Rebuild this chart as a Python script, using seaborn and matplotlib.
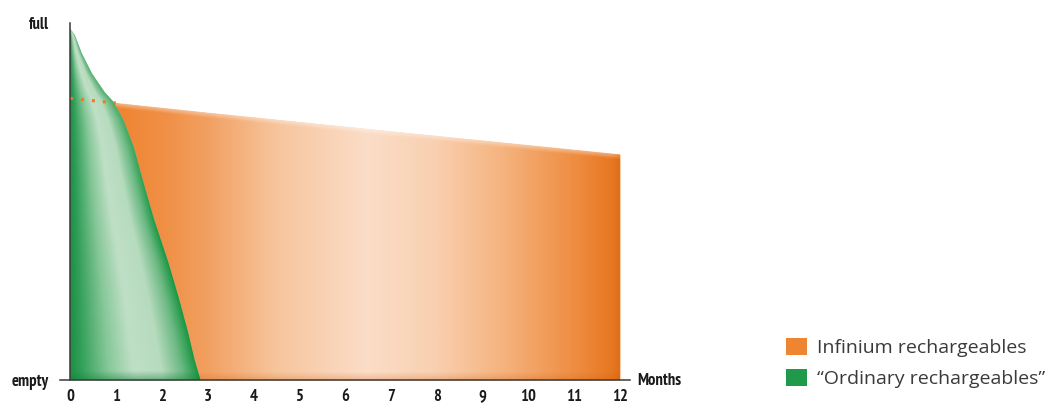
import numpy as np
import matplotlib
matplotlib.use("Agg")
import matplotlib.pyplot as plt
import seaborn as sns
from matplotlib import font_manager as fm
from matplotlib.colors import LinearSegmentedColormap, to_rgb
from matplotlib.patches import Patch
from matplotlib.path import Path

# ---------------- data ----------------
month_ticks = list(range(13))
green_months = [0.0, 0.10, 0.25, 0.47, 0.75, 0.95, 1.17, 1.39, 1.63, 1.84, 2.15, 2.37, 2.58, 2.72, 2.85]
green_charge = [98.5, 96.6, 91.6, 86.0, 80.7, 77.9, 72.8, 65.3, 54.1, 44.8, 32.8, 23.2, 13.2, 5.6, 0.0]
orange_months = [0, 1, 3, 6, 9, 12]
orange_charge = [78.9, 77.6, 74.9, 71.0, 67.1, 63.2]
y_tick_labels = ["empty", "full"]
series_names = ["Infinium rechargeables", "\u201cOrdinary rechargeables\u201d"]
x_axis_label = "Months"

# ---------------- style ----------------
sns.set_theme(style="white")


def pick_condensed_bold():
    best = None
    best_rank = 99
    for f in fm.fontManager.ttflist:
        name = (f.name + " " + f.fname).lower()
        try:
            w = int(f.weight)
        except Exception:
            w = 700 if "bold" in str(f.weight).lower() else 400
        if w < 600 or "italic" in name or f.style != "normal":
            continue
        rank = None
        flat = name.replace(" ", "").replace("-", "")
        if "narrow" in name:
            rank = 0
        elif "extracondensed" in flat and "ultra" not in name:
            rank = 2
        elif "semicondensed" in flat:
            rank = 4
        elif "condensed" in name:
            rank = 1
        elif str(f.stretch) in ("condensed", "extra-condensed"):
            rank = 3
        if rank is not None:
            if "extrabold" in flat or "black" in name:
                rank += 5
            if rank < best_rank:
                best_rank, best = rank, f.fname
    return best


cond_path = pick_condensed_bold()
if cond_path:
    tick_fp = fm.FontProperties(fname=cond_path, size=12)
else:
    tick_fp = fm.FontProperties(family="Roboto", weight="bold", size=10.5)

plt.rcParams["font.family"] = ["Open Sans", "DejaVu Sans"]
axis_col = "#3a3a3a"

W, H = 1051, 405
fig = plt.figure(figsize=(W / 100, H / 100), dpi=100)
ax_left_px, ax_right_px, ax_bot_px, ax_top_px = 60, 630, 380, 23
ax = fig.add_axes([ax_left_px / W, (H - ax_bot_px) / H,
                   (ax_right_px - ax_left_px) / W, (ax_bot_px - ax_top_px) / H])
fig.patch.set_facecolor("white")
ax.set_facecolor("none")

px_per_month = 45.83
zero_px = 70
xmin = -(zero_px - ax_left_px) / px_per_month
xmax = (ax_right_px - zero_px) / px_per_month

# ---------------- fills ----------------
xg = np.linspace(0, 12, 2401)
g_on = np.interp(xg, green_months, green_charge, right=0.0)
o_on = np.interp(xg, orange_months, orange_charge)
mask = o_on > g_on

o_poly = ax.fill_between(xg, g_on, o_on, where=mask, interpolate=True,
                         color="#F29A55", lw=0, zorder=1)
g_poly = ax.fill_between(green_months, 0, green_charge, color="#7CC38F", lw=0, zorder=1)


def compound(coll):
    return Path.make_compound_path(*coll.get_paths())


# orange gradient image
o_stops = [(0, "#EE7F2C"), (1, "#EF8431"), (2, "#F08F45"), (3, "#F2A062"), (4.5, "#F7C59D"),
           (6.5, "#FBDDC8"), (8, "#F9CFAF"), (9.5, "#F5B27C"), (11, "#EF8E42"), (12, "#E6731B")]
o_cmap = LinearSegmentedColormap.from_list("o", [(p / 12, c) for p, c in o_stops])
nx, ny = 1200, 500
mx = np.linspace(0, 12.05, nx)
vy = np.linspace(0, 100, ny)
MX, VY = np.meshgrid(mx, vy)
img = o_cmap(np.clip(MX / 12, 0, 1))[..., :3]
top = np.interp(MX, orange_months, orange_charge)
d_top = top - VY
light = np.clip(1 - d_top / 1.6, 0, 1)[..., None] * 0.45
img = img * (1 - light) + light * 1.0
dark_b = np.clip(1 - VY / 2.2, 0, 1)[..., None] * 0.25
img = img * (1 - dark_b) + dark_b * np.array(to_rgb("#C85A10"))
dark_r = np.clip((MX - 11.8) / 0.2, 0, 1)[..., None] * 0.3
img = img * (1 - dark_r) + dark_r * np.array(to_rgb("#D2600E"))
im_o = ax.imshow(img, extent=[0, 12.05, 0, 100], origin="lower", aspect="auto",
                 zorder=2, interpolation="bilinear")
im_o.set_clip_path(compound(o_poly), ax.transData)

# green gradient image (relative to right edge)
g_stops = [(0.0, "#1E8F45"), (0.08, "#2F9E57"), (0.3, "#86C798"), (0.5, "#BFE0C6"),
           (0.72, "#B6DBBE"), (0.88, "#6CB983"), (1.0, "#1A9642")]
g_cmap = LinearSegmentedColormap.from_list("g", g_stops)
mxg = np.linspace(0, 2.9, 500)
MXG, VYG = np.meshgrid(mxg, vy)
edge = np.interp(VYG, green_charge[::-1], green_months[::-1])
u = np.clip(MXG / np.maximum(edge, 0.02), 0, 1)
gimg = g_cmap(u)[..., :3]
upper = np.clip((VYG - 40) / 40, 0, 1)[..., None] * np.clip((u - 0.7) / 0.3, 0, 1)[..., None] * 0.45
gimg = gimg * (1 - upper) + upper * np.array(to_rgb("#8FCB9F"))
dark_gb = np.clip(1 - VYG / 2.5, 0, 1)[..., None] * 0.45
gimg = gimg * (1 - dark_gb) + dark_gb * np.array(to_rgb("#17803A"))
im_g = ax.imshow(gimg, extent=[0, 2.9, 0, 100], origin="lower", aspect="auto",
                 zorder=3, interpolation="bilinear")
im_g.set_clip_path(compound(g_poly), ax.transData)

# dotted extension of orange line inside the green area
sns.lineplot(x=orange_months[:2], y=orange_charge[:2], ax=ax, color="#F07A1E",
             linestyle=(0, (1, 2.6)), lw=2.2, zorder=5)

# ---------------- axes ----------------
ax.set_xlim(xmin, xmax)
ax.set_ylim(0, 100)
for s in ["top", "right"]:
    ax.spines[s].set_visible(False)
ax.spines["left"].set_position(("data", 0))
ax.spines["left"].set_bounds(0, 100)
for s in ["left", "bottom"]:
    ax.spines[s].set_color(axis_col)
    ax.spines[s].set_linewidth(1.1)
    ax.spines[s].set_zorder(6)

ax.set_xticks(month_ticks)
ax.set_xticklabels([str(m) for m in month_ticks], fontproperties=tick_fp, color="#1a1a1a")
ax.set_yticks([0, 100])
ax.set_yticklabels(y_tick_labels, fontproperties=tick_fp, color="#1a1a1a")
ax.tick_params(axis="x", length=0, pad=6.8)
ax.tick_params(axis="y", length=6.5, width=1.1, color=axis_col, pad=8.6, direction="out")
ax.grid(False)

fig.text(637 / W, 1 - 381 / H, x_axis_label, ha="left", va="center",
         color="#1a1a1a", fontproperties=tick_fp)

# ---------------- legend ----------------
handles = [Patch(facecolor="#EE8532", edgecolor="none"),
           Patch(facecolor="#1E9A4A", edgecolor="none")]
fig.legend(handles, series_names, loc="upper left",
           bbox_to_anchor=(786 / W, 1 - 338 / H), frameon=False,
           prop=dict(family=["Open Sans", "DejaVu Sans"], size=14),
           labelcolor="#3a3a3a", handlelength=1.1, handleheight=0.95,
           handletextpad=0.5, labelspacing=0.6, borderpad=0, borderaxespad=0)

fig.savefig("out.png", dpi=100, facecolor="white")
